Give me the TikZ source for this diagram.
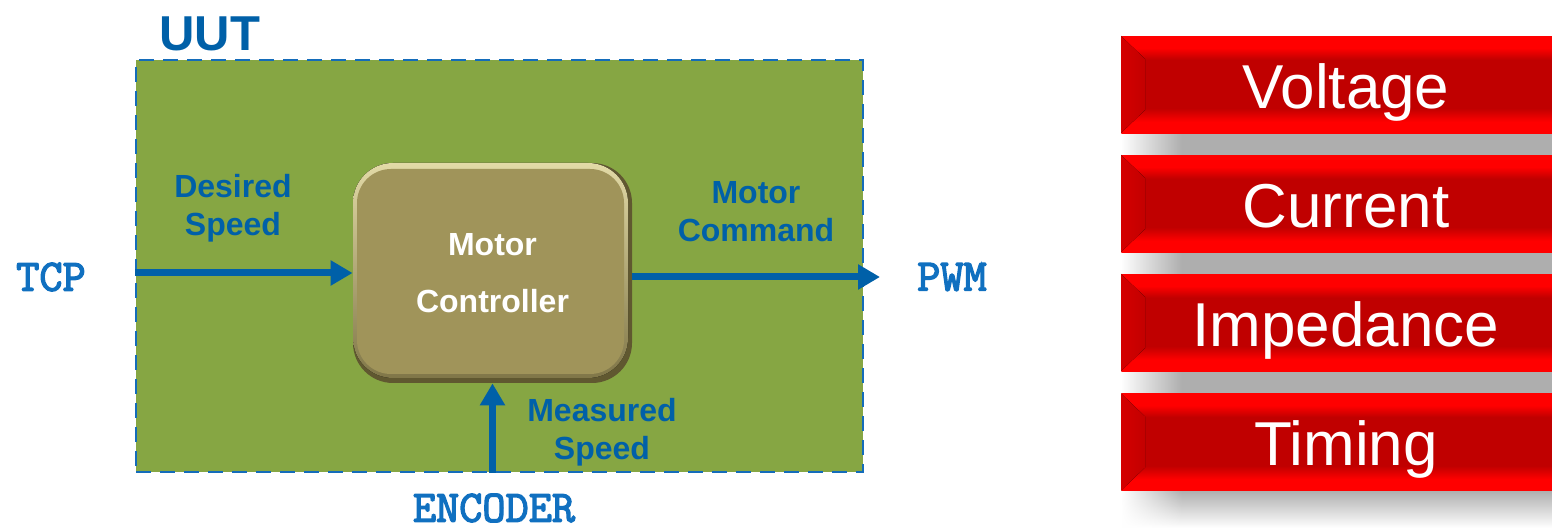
\documentclass[tikz,border=0pt]{standalone}
\usepackage{fontspec}
\setmainfont{Liberation Sans}
\newfontfamily\monob{Latin Modern Mono}[FakeBold=3]
\usetikzlibrary{arrows.meta,fadings}
\definecolor{uutgreen}{RGB}{134,166,67}
\definecolor{labblue}{RGB}{0,96,168}
\definecolor{monoblue}{RGB}{16,112,192}
\definecolor{borderblue}{RGB}{20,108,186}
\definecolor{khaki}{RGB}{160,148,90}
\definecolor{khakilight}{RGB}{226,218,166}
\definecolor{khakidark}{RGB}{96,88,48}
\definecolor{bardark}{RGB}{192,0,0}
\definecolor{barbright}{RGB}{255,0,0}
\definecolor{bevelred}{RGB}{212,0,0}
\definecolor{shadowgray}{RGB}{174,174,174}
\pgfdeclareverticalshading{redbar}{100bp}{color(0bp)=(barbright); color(25bp)=(barbright); color(31bp)=(barbright); color(38bp)=(bardark); color(63bp)=(bardark); color(69bp)=(barbright); color(75bp)=(barbright); color(100bp)=(barbright)}
\tikzfading[name=whitefade, left color=transparent!0, right color=transparent!100]
\tikzset{
  lab/.style={text=labblue, font=\fontsize{16}{19}\selectfont\bfseries, align=center, inner sep=0pt},
  mono/.style={text=monoblue, font=\monob\fontsize{22.5}{22.5}\selectfont, inner sep=0pt},
  conn/.style={draw=labblue, line width=3.5pt, -{Triangle[length=11pt,width=12pt]}},
  barbox/.style={shading=redbar, minimum width=215.5pt, minimum height=48.5pt, inner sep=0pt, anchor=north west},
  bartext/.style={text=white, font=\fontsize{31}{31}\selectfont, inner sep=0pt, anchor=base},
}
\begin{document}
\begin{tikzpicture}[x=0.5pt,y=-0.5pt]
\useasboundingbox (0,0) rectangle (1552,528);
% UUT box
\node[draw=borderblue, dash pattern=on 7.5pt off 4.5pt, line width=1pt, fill=uutgreen,
      minimum width=363.5pt, minimum height=205.75pt, inner sep=0pt, anchor=north west] (uut) at (135,59.5) {};
\node[anchor=west, text=labblue, font=\bfseries\fontsize{24.5}{24.5}\selectfont, inner sep=0pt] (uutlabel) at (159,34) {UUT};
% Motor controller bevelled box
\fill[khakidark, rounded corners=20pt] (353,163) rectangle (632,383);
\fill[top color=khakilight, bottom color=khaki!80!black, rounded corners=20pt] (353,163) rectangle (628,378);
\fill[khaki, rounded corners=17pt] (357,169) rectangle (624,374);
\node[minimum width=139.5pt, minimum height=110pt, inner sep=0pt, align=center, text=white,
      font=\fontsize{16}{28.5}\selectfont\bfseries] (mc) at (492.5,273) {Motor\\Controller};
% labels
\node[lab] (ds) at (233,208) {Desired\\Speed};
\node[lab] (mcmd) at (756,212) {Motor\\Command};
\node[lab] (ms) at (602,432) {Measured\\Speed};
\node[mono] (tcp) at (51,277) {TCP};
\node[mono] (pwm) at (952,277) {PWM};
\node[mono] (enc) at (494,508) {ENCODER};
% connectors
\coordinate (pwmend) at (880,277);
\draw[conn] (uut.west |- mc.west) -- (mc.west);
\draw[conn] (mc.east |- pwmend) -- (pwmend);
\draw[conn] (mc.south |- uut.south) -- (mc.south);
% shadows of the bars
\foreach \t in {36,155,274} {
  \fill[shadowgray] (1121,\t+97) rectangle (1552,\t+119);
}
\fill[top color=shadowgray, bottom color=white] (1121,490.5) rectangle (1552,528);
\fill[white, path fading=whitefade] (1121,128) rectangle (1182,528);
% bars
\foreach \t/\name [count=\i] in {36/Voltage,155/Current,274/Impedance,393.5/Timing} {
  \node[barbox] (bar\i) at (1121,\t) {};
  \fill[left color=bevelred, right color=bardark!95!red] (1121,\t) -- (1145,\t+23) -- (1145,\t+74) -- (1121,\t+97) -- cycle;
  \node[bartext] (txt\i) at (1346,\t+72.5) {\name};
}
\end{tikzpicture}
\end{document}
